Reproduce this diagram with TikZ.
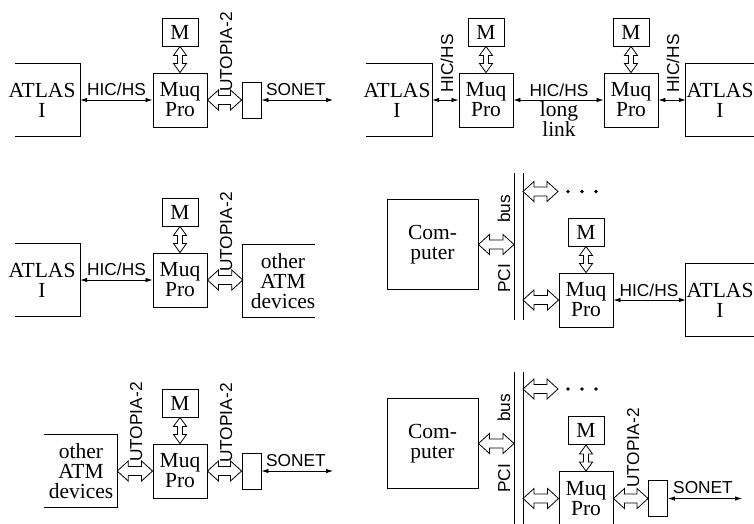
\documentclass[tikz,border=0pt]{standalone}
\usepackage{fontspec}
\setmainfont{Liberation Serif}
\setsansfont{Liberation Sans}
\usetikzlibrary{arrows.meta,calc}
\tikzset{
 boxline/.style={line width=0.9pt},
 boxd/.style={draw, boxline, inner sep=0pt},
 sertext/.style={font=\fontsize{21.5}{20}\selectfont, inner sep=0pt, align=center},
 muqbox/.style={boxd, sertext, minimum width=54pt, minimum height=54pt},
 membox/.style={boxd, sertext, minimum width=36pt, minimum height=28pt},
 smbox/.style={boxd, minimum width=19pt, minimum height=36pt},
 compbox/.style={boxd, sertext, minimum width=91pt, minimum height=90pt},
 ghost/.style={inner sep=0pt, draw=none},
 lab/.style={font=\sffamily\fontsize{17.3}{20}\selectfont, inner sep=0pt},
 rlab/.style={lab, rotate=90, anchor=base west},
 hlab/.style={lab, anchor=base},
 linkline/.style={line width=0.8pt, {Latex[length=7pt,width=4.5pt]}-{Latex[length=7pt,width=4.5pt]}},
 hol/.style={draw, fill=white, line width=0.8pt, line join=miter},
}
\newcommand\hdarr[2]{\draw[hol] let \p1=(#1), \p2=(#2) in
 (\x1,\y1) -- (\x1+11pt,\y1+10pt) -- (\x1+11pt,\y1+4.5pt) -- (\x2-11pt,\y1+4.5pt) -- (\x2-11pt,\y1+10pt) -- (\x2,\y1)
 -- (\x2-11pt,\y1-10pt) -- (\x2-11pt,\y1-4.5pt) -- (\x1+11pt,\y1-4.5pt) -- (\x1+11pt,\y1-10pt) -- cycle;}
\newcommand\vdarr[2]{\draw[hol] let \p1=(#1), \p2=(#2) in
 (\x1,\y1) -- (\x1+6.5pt,\y1-9pt) -- (\x1+2.5pt,\y1-9pt) -- (\x1+2.5pt,\y2+9pt) -- (\x1+6.5pt,\y2+9pt) -- (\x1,\y2)
 -- (\x1-6.5pt,\y2+9pt) -- (\x1-2.5pt,\y2+9pt) -- (\x1-2.5pt,\y1-9pt) -- (\x1-6.5pt,\y1-9pt) -- cycle;}
\begin{document}
\begin{tikzpicture}[x=1pt,y=-1pt]
\useasboundingbox (0,0) rectangle (754,523);
\clip (0,0) rectangle (754,523);
% ---------- panel 1 ----------
\node[ghost, minimum width=65pt, minimum height=72pt] (atlas1) at (47.5,100) {};
\draw[boxline] (atlas1.north west) -- (atlas1.north east) -- (atlas1.south east) -- (atlas1.south west);
\node[sertext] (atlas1t) at (42,100) {ATLAS\\I};
\node[muqbox] (muq1) at (180,100) {Muq\\Pro};
\node[membox] (m1) at (180,32) {M};
\node[smbox] (sm1) at (251.5,100) {};
\coordinate (son1) at (333,100);
\node[hlab] (hic1) at (116.5,95) {HIC/HS};
\node[rlab] (uto1) at (232,92) {UTOPIA-2};
\node[hlab] (sonl1) at (296,95) {SONET};
\draw[linkline] (atlas1.east) -- (muq1.west);
\draw[linkline] (sm1.east) -- (son1);
\vdarr{m1.south}{muq1.north}
\hdarr{muq1.east}{sm1.west}
% ---------- panel 2 ----------
\node[ghost, minimum width=66pt, minimum height=72pt] (atlas2a) at (399,100) {};
\draw[boxline] (atlas2a.north west) -- (atlas2a.north east) -- (atlas2a.south east) -- (atlas2a.south west);
\node[sertext] (atlas2at) at (397,100) {ATLAS\\I};
\node[muqbox] (muq2a) at (486,100) {Muq\\Pro};
\node[membox] (m2a) at (486,32) {M};
\node[muqbox] (muq2b) at (631,100) {Muq\\Pro};
\node[membox] (m2b) at (631,32) {M};
\node[ghost, minimum width=74pt, minimum height=72pt] (atlas2b) at (723,100) {};
\draw[boxline] (atlas2b.north east) -- (atlas2b.north west) -- (atlas2b.south west) -- (atlas2b.south east);
\node[sertext] (atlas2bt) at (720,100) {ATLAS\\I};
\node[rlab] (hic2a) at (453,93) {HIC/HS};
\node[rlab] (hic2c) at (679,93) {HIC/HS};
\node[hlab] (hic2b) at (559,96) {HIC/HS};
\node[sertext] (long2) at (559,119.5) {long\\link};
\draw[linkline] (atlas2a.east) -- (muq2a.west);
\draw[linkline] (muq2a.east) -- (muq2b.west);
\draw[linkline] (muq2b.east) -- (atlas2b.west);
\vdarr{m2a.south}{muq2a.north}
\vdarr{m2b.south}{muq2b.north}
% ---------- panel 3 ----------
\node[ghost, minimum width=65pt, minimum height=72pt] (atlas3) at (47.5,280) {};
\draw[boxline] (atlas3.north west) -- (atlas3.north east) -- (atlas3.south east) -- (atlas3.south west);
\node[sertext] (atlas3t) at (42,280) {ATLAS\\I};
\node[muqbox] (muq3) at (180,280) {Muq\\Pro};
\node[membox] (m3) at (180,212) {M};
\node[ghost, minimum width=72pt, minimum height=72pt] (oth3) at (279,281) {};
\draw[boxline] (oth3.north east) -- (oth3.north west) -- (oth3.south west) -- (oth3.south east);
\node[sertext] (oth3t) at (283,281) {other\\ATM\\devices};
\node[hlab] (hic3) at (116.5,275) {HIC/HS};
\node[rlab] (uto3) at (232,272) {UTOPIA-2};
\draw[linkline] (atlas3.east) -- (muq3.west);
\vdarr{m3.south}{muq3.north}
\hdarr{muq3.east}{oth3.west}
% ---------- panel 5 ----------
\node[ghost, minimum width=73pt, minimum height=73pt] (oth5) at (80.5,471) {};
\draw[boxline] (oth5.north west) -- (oth5.north east) -- (oth5.south east) -- (oth5.south west);
\node[sertext] (oth5t) at (81,471) {other\\ATM\\devices};
\node[muqbox] (muq5) at (180,471) {Muq\\Pro};
\node[membox] (m5) at (180,403) {M};
\node[smbox] (sm5) at (251.5,471) {};
\coordinate (son5) at (333,471);
\node[rlab] (uto5a) at (142,462) {UTOPIA-2};
\node[rlab] (uto5b) at (232,463) {UTOPIA-2};
\node[hlab] (sonl5) at (296,466) {SONET};
\draw[linkline] (sm5.east) -- (son5);
\vdarr{m5.south}{muq5.north}
\hdarr{oth5.east}{muq5.west}
\hdarr{muq5.east}{sm5.west}
% ---------- panel 4 ----------
\node[compbox] (comp4) at (432.5,244.5) {Com-\\puter};
\draw[boxline] (514,173) coordinate (bus4a) -- (514,320) coordinate (bus4b);
\draw[boxline] (523,173) coordinate (bus4c) -- (523,320) coordinate (bus4d);
\node[rlab] (bus4t) at (510,223) {bus};
\node[rlab] (pci4t) at (510,293) {PCI};
\coordinate (b4c) at (514,244.5);
\coordinate (b4u) at (523,191.5);
\coordinate (b4ue) at (558,191.5);
\coordinate (b4l) at (523,300);
\node[muqbox] (muq4) at (586,300) {Muq\\Pro};
\node[membox] (m4) at (586,232) {M};
\node[ghost, minimum width=74pt, minimum height=72pt] (atlas4) at (723,300) {};
\draw[boxline] (atlas4.north east) -- (atlas4.north west) -- (atlas4.south west) -- (atlas4.south east);
\node[sertext] (atlas4t) at (720,300) {ATLAS\\I};
\node[hlab] (hic4) at (649,296) {HIC/HS};
\hdarr{comp4.east}{b4c}
\hdarr{b4u}{b4ue}
\hdarr{b4l}{muq4.west}
\fill (568,191.5) circle (1.8pt) (582,191.5) circle (1.8pt) (596,191.5) circle (1.8pt);
\vdarr{m4.south}{muq4.north}
\draw[linkline] (muq4.east) -- (atlas4.west);
% ---------- panel 6 ----------
\node[compbox] (comp6) at (432.5,443.5) {Com-\\puter};
\draw[boxline] (514,372) coordinate (bus6a) -- (514,530) coordinate (bus6b);
\draw[boxline] (523,372) coordinate (bus6c) -- (523,530) coordinate (bus6d);
\node[rlab] (bus6t) at (510,422) {bus};
\node[rlab] (pci6t) at (510,493) {PCI};
\coordinate (b6c) at (514,443.5);
\coordinate (b6u) at (523,389);
\coordinate (b6ue) at (558,389);
\coordinate (b6l) at (523,498.5);
\node[muqbox] (muq6) at (586,498.5) {Muq\\Pro};
\node[membox] (m6) at (586,430.5) {M};
\node[smbox] (sm6) at (658,498.5) {};
\coordinate (son6) at (742,498.5);
\node[rlab] (uto6) at (639,488) {UTOPIA-2};
\node[hlab] (sonl6) at (703,493) {SONET};
\hdarr{comp6.east}{b6c}
\hdarr{b6u}{b6ue}
\hdarr{b6l}{muq6.west}
\hdarr{muq6.east}{sm6.west}
\fill (568,389) circle (1.8pt) (582,389) circle (1.8pt) (596,389) circle (1.8pt);
\vdarr{m6.south}{muq6.north}
\draw[linkline] (sm6.east) -- (son6);
\end{tikzpicture}
\end{document}
